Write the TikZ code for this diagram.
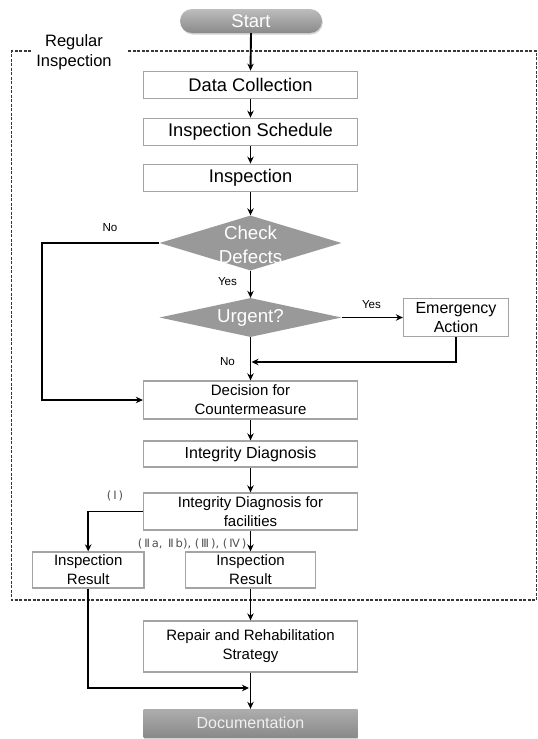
\documentclass[tikz,border=0pt]{standalone}
\usepackage{fontspec}
\setmainfont{Liberation Sans}
\newfontfamily\numfont{DejaVu Sans}
\usetikzlibrary{shapes.geometric,arrows.meta,shadows}
\definecolor{boxline}{HTML}{A4A4A4}
\definecolor{dgray}{HTML}{999999}
\definecolor{lblgray}{HTML}{505050}
\definecolor{dashc}{HTML}{383838}
\begin{document}
\begin{tikzpicture}[x=1pt,y=-1pt,
  box/.style={draw=boxline,line width=1.3pt,fill=white,minimum width=214pt,inner sep=0pt,align=center,text=black},
  fbig/.style={font=\fontsize{18.3}{22}\selectfont},
  fmid/.style={font=\fontsize{16}{19.5}\selectfont},
  fsm/.style={font=\fontsize{15}{19}\selectfont},
  arr/.style={line width=1.9pt,-{Stealth[length=7pt,width=6.5pt]}},
  dia/.style={diamond,fill=dgray,draw=none,inner sep=0pt,minimum width=182pt},
  dtext/.style={text=white,align=center,inner sep=0pt,font=\fontsize{18.7}{23.5}\selectfont},
  lbl/.style={font=\fontsize{11.6}{13}\selectfont,inner sep=0pt},
  numlbl/.style={font=\numfont\fontsize{11.5}{13}\selectfont,text=lblgray,inner sep=0pt}]
\useasboundingbox (0,0) rectangle (538,739);

% dashed region
\draw[dashc,line width=1.1pt,dash pattern=on 3pt off 1.5pt]
  (31,51) -- (11.5,51) -- (11.5,600) -- (536.5,600) -- (536.5,51) -- (128,51);
\node[font=\fontsize{16.5}{19.5}\selectfont,align=center,inner sep=0pt] (reg) at (74,52) {Regular\\Inspection};

% start
\node[rectangle,rounded corners=12pt,minimum width=142pt,minimum height=24pt,inner sep=0pt,
      top color=black!26,bottom color=black!46,draw=none,text=white,
      drop shadow={shadow xshift=0.8pt,shadow yshift=-1.5pt,opacity=0.35},
      font=\fontsize{18.5}{22}\selectfont] (start) at (251,21) {Start};

% main boxes
\node[box,fbig,minimum height=27.5pt] (dc) at (250.5,85) {Data Collection};
\node[box,fbig,minimum height=27.5pt] (is) at (250.5,132) {Inspection Schedule};
\node[box,fbig,minimum height=27.5pt] (insp) at (250.5,178) {Inspection};

\node[dia,minimum height=55pt] (chk) at (250.5,243) {};
\node[dtext] (chkt) at (250.5,245) {Check\\Defects};
\node[dia,minimum height=39pt] (urg) at (250.5,317.5) {};
\node[dtext] (urgt) at (250.5,318) {Urgent?};

\node[box,fmid,minimum width=105pt,minimum height=38pt] (ea) at (456,317.5) {Emergency\\Action};

\node[box,fsm,minimum height=38pt] (dec) at (250.5,400) {Decision for\\Countermeasure};
\node[box,fmid,minimum height=26pt] (id) at (250.5,454) {Integrity Diagnosis};
\node[box,fsm,minimum height=37pt] (idf) at (250.5,511.5) {Integrity Diagnosis for\\facilities};

\node[box,fsm,minimum width=111.5pt,minimum height=36pt] (ir1) at (88.2,570) {Inspection\\Result};
\node[box,fsm,minimum width=130pt,minimum height=36pt] (ir2) at (250.5,570) {Inspection\\Result};

\node[box,fsm,minimum height=51pt] (rep) at (250.5,646.5) {Repair and Rehabilitation\\Strategy};

\node[rectangle,minimum width=214pt,minimum height=28pt,inner sep=0pt,draw=none,
      top color=black!32,bottom color=black!46,text=black!6,
      drop shadow={shadow xshift=0.8pt,shadow yshift=-1.5pt,opacity=0.35},
      font=\fontsize{16}{19}\selectfont] (doc) at (250.5,723) {Documentation};

% coordinates
\coordinate (nocorner) at (42,243);
\coordinate (merge) at (251.5,362);
\coordinate (join) at (249,688);

% connectors
\draw[arr] (start.south) -- (dc.north);
\draw[arr] (dc) -- (is);
\draw[arr] (is) -- (insp);
\draw[arr] (insp.south) -- (chk.north);
\draw[arr] (chk.south) -- (urg.north);
\draw[arr] (chk.west) -- (nocorner) |- (dec.west);
\draw[arr] (urg.east) -- (ea.west);
\draw[arr] (ea.south) |- (merge);
\draw[arr] (urg.south) -- (dec.north);
\draw[arr] (dec) -- (id);
\draw[arr] (id) -- (idf);
\draw[arr] (idf.west) -| (ir1.north);
\draw[arr] (idf.south) -- (ir2.north);
\draw[arr] (ir2.south) -- (rep.north);
\draw[arr] (ir1.south) |- (join);
\draw[arr] (rep.south) -- (doc.north);

% labels
\node[lbl] (lno1) at (110,227.5) {No};
\node[lbl] (lyes1) at (227.5,282) {Yes};
\node[lbl] (lyes2) at (371.5,304.5) {Yes};
\node[lbl] (lno2) at (227.5,361.5) {No};
\node[numlbl] (lI) at (115,495.5) {(\,Ⅰ\,)};
\node[numlbl,anchor=east] (lII) at (246.5,543.5) {(\,Ⅱ\,a,\, Ⅱ\,b), (\,Ⅲ\,), (\,Ⅳ\,)};
\end{tikzpicture}
\end{document}
